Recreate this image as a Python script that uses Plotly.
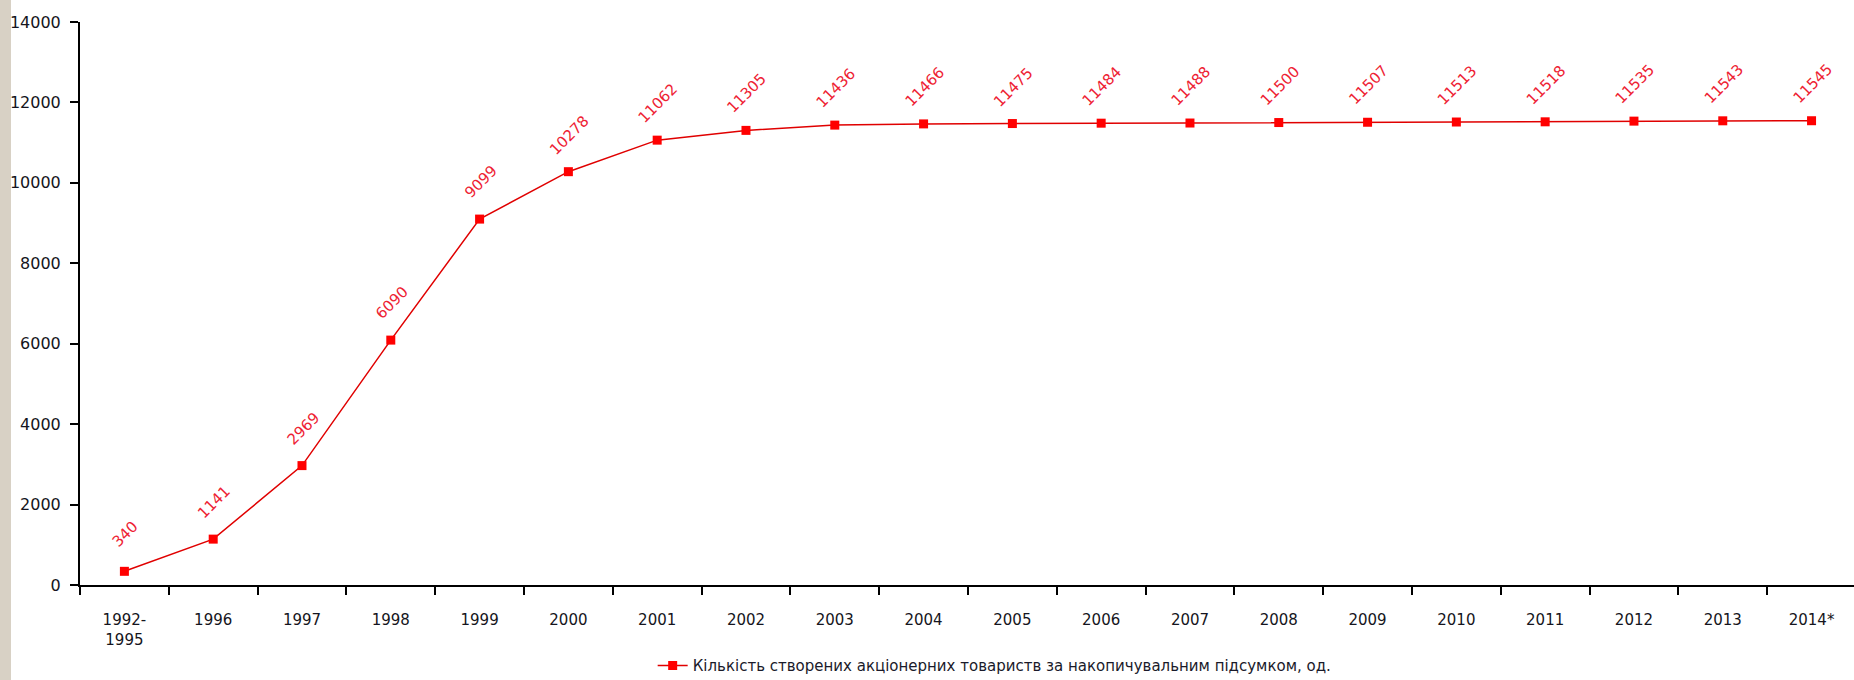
import plotly.graph_objects as go

categories = ["1992-<br>1995", "1996", "1997", "1998", "1999", "2000", "2001", "2002", "2003",
              "2004", "2005", "2006", "2007", "2008", "2009", "2010", "2011", "2012", "2013", "2014*"]
values = [340, 1141, 2969, 6090, 9099, 10278, 11062, 11305, 11436, 11466, 11475, 11484,
          11488, 11500, 11507, 11513, 11518, 11535, 11543, 11545]
series_name = "Кількість створених акціонерних товариств за накопичувальним підсумком, од."
y_ticks = [0, 2000, 4000, 6000, 8000, 10000, 12000, 14000]

fig = go.Figure()
fig.add_trace(go.Scatter(
    x=categories, y=values, mode="lines+markers", name=series_name,
    line=dict(color="#e00000", width=1.5),
    marker=dict(symbol="square", size=9, color="#ff0000"),
    showlegend=True,
))

# category axis: annotation x given as the category's index
for i, v in enumerate(values):
    fig.add_annotation(x=i, y=v, text=str(v), showarrow=False, textangle=-45,
                       yshift=37, xshift=1,
                       font=dict(family="DejaVu Sans", size=15, color="#ee2233"))

# left decorative background strip
fig.add_shape(type="rect", xref="paper", yref="paper",
              x0=-80 / 1774, x1=-69 / 1774, y0=-1, y1=2,
              fillcolor="#d8d1c5", line=dict(width=0), layer="below")

fig.update_layout(
    width=1854, height=680,
    margin=dict(l=80, r=0, t=22, b=95, autoexpand=False),
    paper_bgcolor="white", plot_bgcolor="white",
    font=dict(family="DejaVu Sans", size=15, color="#151520"),
    legend=dict(orientation="h", x=0.5156, xanchor="center", yref="container",
                y=0.021, yanchor="middle",
                font=dict(family="DejaVu Sans", size=15, color="#1a1a2a"),
                bgcolor="rgba(0,0,0,0)"),
    xaxis=dict(type="category", range=[-0.5, 19.478], showline=True, linecolor="black",
               linewidth=2, ticks="outside", ticklen=8, tickwidth=1.5, tickcolor="black",
               tickson="boundaries", showgrid=False, zeroline=False, tickangle=0,
               ticklabelstandoff=20, automargin=False),
    yaxis=dict(range=[0, 14000], tickvals=y_ticks, tickformat="d", showline=True,
               linecolor="black", linewidth=2, ticks="outside", ticklen=8, tickwidth=1.5,
               tickcolor="black", showgrid=False, zeroline=False, ticklabelstandoff=6,
               tickfont=dict(size=16), automargin=False),
)

fig.write_html("out.html")
